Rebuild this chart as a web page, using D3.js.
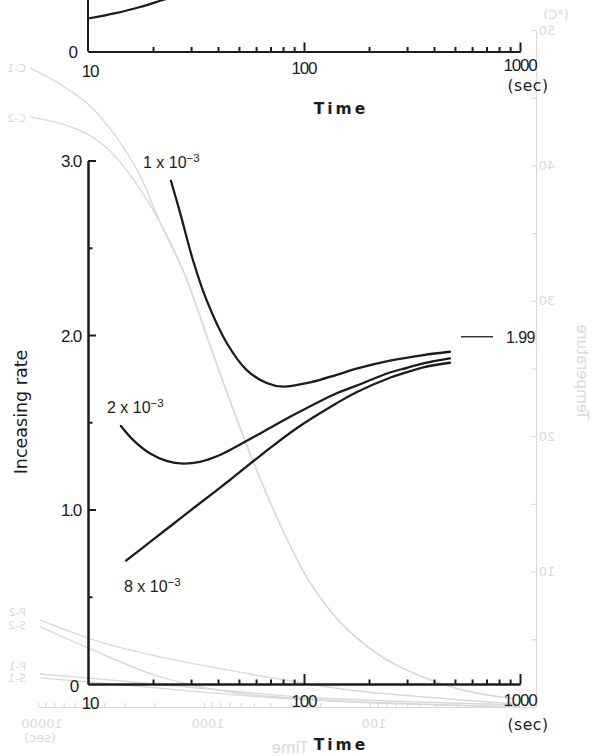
<!DOCTYPE html>
<html>
<head>
<meta charset="utf-8">
<script src="https://cdn.jsdelivr.net/npm/d3@7"></script>
<style>
  body { margin: 0; background: #fff; }
  svg { display: block; }
</style>
</head>
<body>
<svg id="chart" width="597" height="756"></svg>
<script>
// ---------- Main panel: increasing rate vs time (log) ----------
const rate1Label = "1";   // 1 x 10^-3
const rate1Time  = [24.2, 26.7, 30.6, 35.4, 43.9, 54.3, 67.2, 80, 106.7, 141.6, 175, 250, 357, 474];
const rate1Value = [2.884, 2.70, 2.43, 2.20, 1.954, 1.799, 1.725, 1.704, 1.728, 1.772, 1.807, 1.853, 1.885, 1.904];

const rate2Label = "2";   // 2 x 10^-3
const rate2Time  = [14.2, 16.2, 19.4, 23.1, 26.7, 33, 40.8, 45.4, 64.8, 92.5, 141.6, 175, 250, 300, 357, 474];
const rate2Value = [1.479, 1.398, 1.321, 1.279, 1.264, 1.273, 1.312, 1.341, 1.446, 1.551, 1.666, 1.71, 1.785, 1.812, 1.838, 1.866];

const rate8Label = "8";   // 8 x 10^-3
const rate8Time  = [15, 19.4, 27.6, 39.4, 45.4, 64.8, 92.5, 141.6, 175, 250, 300, 357, 474];
const rate8Value = [0.707, 0.814, 0.962, 1.11, 1.169, 1.322, 1.466, 1.609, 1.672, 1.755, 1.787, 1.815, 1.841];

const limitValue = 1.99;

const xTickLabels = ["10", "100", "1000"];
const xTickValues = [10, 100, 1000];
const xMinorTicks = [20, 30, 40, 50, 60, 70, 80, 90, 200, 300, 400, 500, 600, 700, 800, 900];
const yMajorTicks = [1, 2, 3];
const yMinorTicks = [0.5, 1.5, 2.5];
const yTickLabels = ["0", "1.0", "2.0", "3.0"];

// ---------- Upper panel (lower edge only) ----------
const upperTime  = [10, 13.6, 17.4, 22.2, 26];
const upperValue = [0.189, 0.221, 0.255, 0.295, 0.32];

// ---------- Faint mirrored temperature plot printed behind ----------
const backC1Time = [11170, 7370, 4864, 3451, 2443, 1841, 1301, 920, 650, 460, 325, 230, 152, 87, 50, 28.7, 13.8];
const backC1Temp = [47.2, 46.0, 44.4, 42.25, 39.3, 35.8, 31.9, 26.7, 21.6, 16.9, 12.7, 9.2, 6.3, 3.8, 2.3, 1.3, 0.6];
const backC2Time = [11170, 7370, 5210, 3706, 2606, 1841, 1301, 920, 650, 460, 325, 230, 152, 87, 50, 28.7, 13.8];
const backC2Temp = [43.6, 43.1, 42.4, 41.1, 38.8, 35.8, 31.9, 26.7, 21.6, 16.9, 12.7, 9.2, 6.3, 3.8, 2.3, 1.3, 0.6];
const backP2Time = [9730, 4236, 1841, 528, 132, 33, 12.5];
const backP2Temp = [6.44, 4.81, 3.70, 2.44, 1.26, 0.59, 0.22];
const backS2Time = [9730, 4864, 1841, 697, 200, 33, 12.5];
const backS2Temp = [5.93, 4.30, 2.22, 1.11, 0.52, 0.15, 0.0];
const backP1Time = [9730, 2677, 801, 264, 50, 12.5];
const backP1Temp = [2.44, 1.85, 1.26, 0.74, 0.37, 0.15];
const backS1Time = [9730, 2677, 528, 132, 12.5];
const backS1Temp = [2.15, 1.56, 0.81, 0.37, 0.0];
const backTempTicks = [0, 5, 10, 15, 20, 25, 30, 35, 40, 45, 50];
const backTempLabels = ["10", "20", "30", "40", "50"];
const backTimeLabels = ["10000", "1000", "100"];
const backCurveNames = ["C-1", "C-2", "P-2", "S-2", "P-1", "S-1"];

// ---------- Drawing ----------
const svg = d3.select("#chart");
const INK = "#1c1c1c";
const FAINT = "#d9d9d9";

const zip = (ts, vs) => ts.map((t, i) => ({ t, v: vs[i] }));

// --- back layer ---
const bx = d3.scaleLog().domain([10, 10000]).range([536, 38]);
const by = d3.scaleLinear().domain([0, 50]).range([707, 30]);
const back = svg.append("g").attr("class", "back");
const backLine = d3.line().x(d => bx(d.t)).y(d => by(d.v)).curve(d3.curveCatmullRom.alpha(0.5));
[[backC1Time, backC1Temp], [backC2Time, backC2Temp], [backP2Time, backP2Temp],
 [backS2Time, backS2Temp], [backP1Time, backP1Temp], [backS1Time, backS1Temp]].forEach(([ts, vs]) => {
  back.append("path").attr("d", backLine(zip(ts, vs)))
    .attr("fill", "none").attr("stroke", FAINT).attr("stroke-width", 1.4);
});
const backYAxis = back.append("g").attr("transform", "translate(536,0)")
  .call(d3.axisRight(by).tickValues(backTempTicks).tickSize(-5).tickSizeOuter(0).tickFormat(""));
const backXAxis = back.append("g").attr("transform", "translate(0,707)")
  .call(d3.axisBottom(bx).tickSize(-4).tickSizeOuter(0).tickFormat(""));
[backYAxis, backXAxis].forEach(a => {
  a.selectAll("path, line").attr("stroke", FAINT).attr("stroke-width", 1.2);
});

function mirrored(x, y, str, size, rot, anchor) {
  back.append("text")
    .attr("transform", `translate(${x},${y}) scale(-1,1)` + (rot ? ` rotate(${rot})` : ""))
    .attr("text-anchor", anchor || "middle").attr("dominant-baseline", "central")
    .attr("font-family", "DejaVu Sans, sans-serif").attr("font-size", size)
    .attr("fill", FAINT).text(str);
}
backTempLabels.forEach(s => mirrored(547, by(+s), s, 13));
mirrored(556, 14, "(°C)", 13);
mirrored(582, 372, "Temperature", 15, -90);
backTimeLabels.forEach(s => mirrored(bx(+s) + 4, 723, s, 13));
mirrored(40, 737, "(sec)", 13);
mirrored(290, 748, "Time", 15);
const nameY = [68, 118, 612, 625, 666, 678];
backCurveNames.forEach((s, i) => mirrored(26, nameY[i], s, 11, 0, "start"));

// --- shared x scale ---
const x = d3.scaleLog().domain([10, 1000]).range([88, 520]);

// --- upper panel ---
const yUpper = d3.scaleLinear().domain([0, 3]).range([51.5, 51.5 - 523.5]);
const upper = svg.append("g").attr("class", "upper");
upper.append("path")
  .attr("d", d3.line().x(d => x(d.t)).y(d => yUpper(d.v)).curve(d3.curveCatmullRom)(zip(upperTime, upperValue)))
  .attr("fill", "none").attr("stroke", INK).attr("stroke-width", 2.2);
upper.append("g").attr("transform", `translate(88,0)`)
  .call(d3.axisLeft(yUpper).tickValues([]).tickSizeOuter(0))
  .call(g => g.select(".domain").attr("d", `M0,${yUpper(0)}V0`));
upper.append("g").attr("transform", `translate(0,${yUpper(0)})`)
  .call(d3.axisBottom(x).tickValues(xMinorTicks).tickSize(-4.5).tickSizeOuter(0).tickFormat(""));
upper.append("g").attr("transform", `translate(0,${yUpper(0)})`)
  .call(d3.axisBottom(x).tickValues([100, 1000]).tickSize(-9).tickSizeOuter(0).tickFormat(""));

// --- main panel ---
const y = d3.scaleLinear().domain([0, 3]).range([684, 160.5]);
const main = svg.append("g").attr("class", "main");
main.append("g").attr("transform", "translate(88,0)")
  .call(d3.axisLeft(y).tickValues(yMajorTicks).tickSize(-8).tickSizeOuter(0).tickFormat(""));
main.append("g").attr("transform", "translate(88,0)")
  .call(d3.axisLeft(y).tickValues(yMinorTicks).tickSize(-4.5).tickSizeOuter(0).tickFormat(""));
main.append("g").attr("transform", `translate(0,${y(0)})`)
  .call(d3.axisBottom(x).tickValues(xMinorTicks).tickSize(-4.5).tickSizeOuter(0).tickFormat(""));
main.append("g").attr("transform", `translate(0,${y(0)})`)
  .call(d3.axisBottom(x).tickValues([100, 1000]).tickSize(-10).tickSizeOuter(0).tickFormat(""));

svg.selectAll(".upper .domain, .upper .tick line, .main .domain, .main .tick line")
  .attr("stroke", INK).attr("stroke-width", 2);

const line = d3.line().x(d => x(d.t)).y(d => y(d.v)).curve(d3.curveCatmullRom.alpha(0.5));
[[rate1Time, rate1Value], [rate2Time, rate2Value], [rate8Time, rate8Value]].forEach(([ts, vs]) => {
  main.append("path").attr("d", line(zip(ts, vs)))
    .attr("fill", "none").attr("stroke", INK).attr("stroke-width", 2.3)
    .attr("stroke-linecap", "round");
});

// limit marker
main.append("line").attr("x1", 461).attr("x2", 493)
  .attr("y1", y(limitValue)).attr("y2", y(limitValue))
  .attr("stroke", INK).attr("stroke-width", 1.3);
main.append("text").attr("x", 506).attr("y", y(limitValue) + 1)
  .attr("dominant-baseline", "central")
  .attr("font-family", "Liberation Sans, Arial, sans-serif").attr("font-size", 16)
  .attr("letter-spacing", -0.6).attr("fill", INK).text(limitValue.toFixed(2));

// curve labels
function rateLabel(px, py, mant) {
  const t = main.append("text").attr("x", px).attr("y", py)
    .attr("font-family", "Liberation Sans, Arial, sans-serif").attr("font-size", 16)
    .attr("fill", INK);
  t.append("tspan").text(`${mant} x 10`);
  t.append("tspan").attr("dy", -6).attr("font-size", 11.5).text("\u22123");
}
rateLabel(143, 168, rate1Label);
rateLabel(107, 413, rate2Label);
rateLabel(124, 592, rate8Label);

// tick labels
const tickFont = "Liberation Sans, Arial, sans-serif";
function xLabels(ys, secY, timeY) {
  xTickValues.forEach((v, i) => {
    svg.append("text").attr("x", x(v) + (i === 0 ? 2 : 0)).attr("y", ys[i])
      .attr("text-anchor", "middle").attr("dominant-baseline", "central")
      .attr("font-family", tickFont).attr("font-size", 17).attr("letter-spacing", -1.2)
      .attr("fill", INK).text(xTickLabels[i]);
  });
  svg.append("text").attr("x", 528).attr("y", secY)
    .attr("text-anchor", "middle").attr("dominant-baseline", "central")
    .attr("font-family", "DejaVu Sans, sans-serif").attr("font-size", 15.5)
    .attr("letter-spacing", 0.6).attr("fill", INK).text("(sec)");
  svg.append("text").attr("x", 341).attr("y", timeY)
    .attr("text-anchor", "middle").attr("dominant-baseline", "central")
    .attr("font-family", "DejaVu Sans, sans-serif").attr("font-size", 15.5)
    .attr("font-weight", "bold").attr("letter-spacing", 3).attr("fill", INK).text("Time");
}
xLabels([71, 68, 65], 86, 109);
xLabels([703, 701, 700], 725, 745);

svg.append("text").attr("x", 78).attr("y", yUpper(0) + 1)
  .attr("text-anchor", "end").attr("dominant-baseline", "central")
  .attr("font-family", tickFont).attr("font-size", 17).attr("fill", INK).text("0");

[0, 1, 2, 3].forEach((v, i) => {
  svg.append("text").attr("x", v === 0 ? 78 : 81).attr("y", y(v) + (v === 0 ? 2 : 1))
    .attr("text-anchor", "end").attr("dominant-baseline", "central")
    .attr("font-family", tickFont).attr("font-size", 17).attr("letter-spacing", -1.2)
    .attr("fill", INK).text(yTickLabels[i]);
});

svg.append("text")
  .attr("transform", "translate(21,412) rotate(-90)")
  .attr("text-anchor", "middle").attr("dominant-baseline", "central")
  .attr("font-family", "DejaVu Sans, sans-serif").attr("font-size", 17.5)
  .attr("fill", INK).text("Inceasing rate");
</script>
</body>
</html>
